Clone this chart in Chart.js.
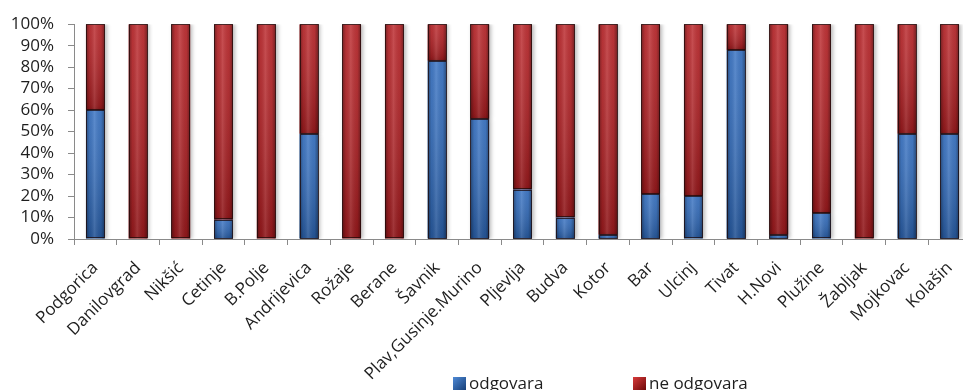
<!DOCTYPE html>
<html>
<head>
<meta charset="utf-8">
<script src="https://cdn.jsdelivr.net/npm/chart.js@4/dist/chart.umd.min.js"></script>
<style>
  html, body { margin: 0; padding: 0; background: #fff; overflow: hidden; }
  body { width: 963px; height: 390px; position: relative; }
  #wrap { position: absolute; left: 0; top: 0; width: 976px; height: 390px; }
  .leg { position: absolute; font-family: "Open Sans", sans-serif; font-size: 17px; line-height: 17px; color: #1e1e1e; white-space: nowrap; }
  .box { position: absolute; width: 13px; height: 13px; }
</style>
</head>
<body>
<div id="wrap"><canvas id="c"></canvas></div>
<div class="box" style="left:453px;top:377px;background:linear-gradient(135deg,#4f8ad6,#163f78);"></div>
<div class="leg" style="left:469px;top:374px;">odgovara</div>
<div class="box" style="left:633px;top:377px;background:linear-gradient(135deg,#d83a3a,#6e0808);"></div>
<div class="leg" style="left:649px;top:374px;">ne odgovara</div>
<script>
// Municipalities and the share (%) of answers in each group
const municipalities = [
  "Podgorica", "Danilovgrad", "Nikšić", "Cetinje", "B.Polje", "Andrijevica",
  "Rožaje", "Berane", "Šavnik", "Plav,Gusinje.Murino", "Pljevlja", "Budva",
  "Kotor", "Bar", "Ulcinj", "Tivat", "H.Novi", "Plužine", "Žabljak",
  "Mojkovac", "Kolašin"
];
const odgovara = [60, 0, 0, 9, 0, 49, 0, 0, 83, 56, 23, 10, 2, 21, 20, 88, 2, 12, 0, 49, 49];
const neOdgovara = [40, 100, 100, 91, 100, 51, 100, 100, 17, 44, 77, 90, 98, 79, 80, 12, 98, 88, 100, 51, 51];
const yTickValues = [0, 10, 20, 30, 40, 50, 60, 70, 80, 90, 100];
const seriesNames = ["odgovara", "ne odgovara"];

const FONT = "Open Sans";

// Soft shadow behind the columns plus cylinder-like shading on top of them
const barShading = {
  id: "barShading",
  beforeDatasetsDraw(chart) {
    const ctx = chart.ctx;
    ctx.save();
    ctx.shadowColor = "rgba(0,0,0,0.28)";
    ctx.shadowBlur = 4;
    ctx.shadowOffsetX = 2;
    ctx.shadowOffsetY = 0;
  },
  afterDatasetsDraw(chart) {
    const ctx = chart.ctx;
    ctx.restore();
    ctx.save();
    chart.data.datasets.forEach((ds, i) => {
      const meta = chart.getDatasetMeta(i);
      meta.data.forEach(bar => {
        const p = bar.getProps(["x", "y", "base", "width"], true);
        const left = p.x - p.width / 2;
        const top = Math.min(p.y, p.base);
        const h = Math.abs(p.base - p.y);
        if (h < 0.5) return;
        // vertical: lighter near the top of each segment, darker below
        const gv = ctx.createLinearGradient(0, top, 0, top + h);
        gv.addColorStop(0, "rgba(255,255,255,0.10)");
        gv.addColorStop(1, "rgba(0,0,0,0.22)");
        ctx.fillStyle = gv;
        ctx.fillRect(left, top, p.width, h);
        // horizontal: dark edges, bright centre
        const gh = ctx.createLinearGradient(left, 0, left + p.width, 0);
        gh.addColorStop(0, "rgba(0,0,0,0.38)");
        gh.addColorStop(0.2, "rgba(0,0,0,0.05)");
        gh.addColorStop(0.45, "rgba(255,255,255,0.12)");
        gh.addColorStop(0.8, "rgba(0,0,0,0.05)");
        gh.addColorStop(1, "rgba(0,0,0,0.38)");
        ctx.fillStyle = gh;
        ctx.fillRect(left, top, p.width, h);
        ctx.strokeStyle = "rgba(30,10,10,0.75)";
        ctx.lineWidth = 1;
        ctx.strokeRect(Math.round(left) + 0.5, Math.round(top) + 0.5, Math.round(p.width) - 1, Math.round(h) - 1);
      });
    });
    ctx.restore();
  }
};

new Chart(document.getElementById("c"), {
  type: "bar",
  data: {
    labels: municipalities,
    datasets: [
      { label: seriesNames[0], data: odgovara, backgroundColor: "#2f6cc0", borderWidth: 0 },
      { label: seriesNames[1], data: neOdgovara, backgroundColor: "#b81e22", borderWidth: 0 }
    ]
  },
  options: {
    responsive: true,
    maintainAspectRatio: false,
    animation: false,
    events: [],
    categoryPercentage: 1,
    barPercentage: 0.44,
    layout: { padding: { left: 0, right: 5, top: 11, bottom: 0 } },
    plugins: { legend: { display: false }, tooltip: { enabled: false } },
    scales: {
      x: {
        stacked: true,
        afterFit(scale) {
          scale.paddingLeft = 0;
          scale.paddingRight = 0;
          scale.height = 151;
        },
        grid: { display: true, drawOnChartArea: false, drawTicks: true, tickLength: 6, color: "#8a8a8a", offset: true },
        border: { display: true, color: "#8a8a8a", width: 1 },
        ticks: {
          font: { family: FONT, size: 17 },
          color: "#1e1e1e",
          minRotation: 45,
          maxRotation: 45,
          autoSkip: false,
          padding: 13
        }
      },
      y: {
        stacked: true,
        min: 0,
        max: 100,
        afterFit(scale) { scale.width = 74; },
        afterBuildTicks(scale) { scale.ticks = yTickValues.map(v => ({ value: v })); },
        grid: { display: true, drawOnChartArea: false, drawTicks: true, tickLength: 6, color: "#8a8a8a" },
        border: { display: true, color: "#8a8a8a", width: 1 },
        ticks: {
          font: { family: FONT, size: 17 },
          color: "#1e1e1e",
          padding: 14,
          autoSkip: false,
          callback: v => v + "%"
        }
      }
    }
  },
  plugins: [barShading]
});
</script>
</body>
</html>
